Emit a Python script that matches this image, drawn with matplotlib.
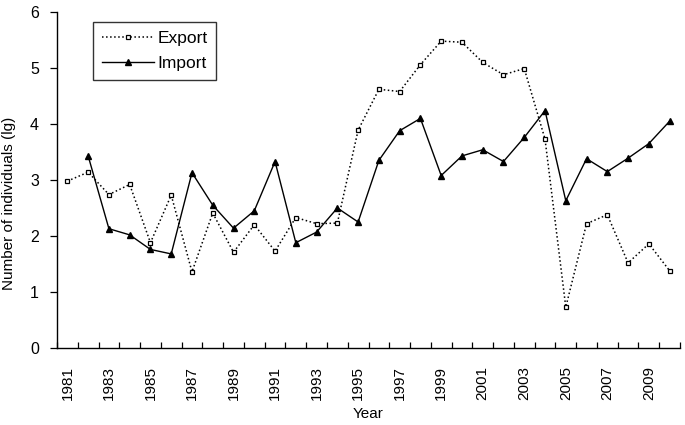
import numpy as np
import matplotlib.pyplot as plt

plt.rcParams['font.family'] = ['Liberation Sans', 'DejaVu Sans']

years = list(range(1981, 2011))
export = [2.98, 3.14, 2.74, 2.92, 1.88, 2.73, 1.36, 2.41, 1.71, 2.20,
          1.73, 2.33, 2.22, 2.23, 3.89, 4.62, 4.58, 5.06, 5.48, 5.46,
          5.10, 4.88, 4.99, 3.73, 0.73, 2.22, 2.38, 1.52, 1.86, 1.38]
# no import value for 1981
imports = [np.nan, 3.43, 2.13, 2.02, 1.76, 1.68, 3.13, 2.55, 2.14, 2.45,
           3.33, 1.88, 2.07, 2.50, 2.25, 3.35, 3.88, 4.10, 3.08, 3.43,
           3.54, 3.33, 3.76, 4.24, 2.63, 3.38, 3.15, 3.39, 3.65, 4.05]

x = np.arange(len(years))

fig = plt.figure(figsize=(6.85, 4.25), dpi=100)
ax = fig.add_axes([57 / 685, 1 - 348 / 425, 623 / 685, 336 / 425])

ax.plot(x, export, linestyle=':', color='black', linewidth=1.1,
        marker='s', markersize=3.5, markerfacecolor='white',
        markeredgecolor='black', markeredgewidth=0.9, label='Export')
ax.plot(x, imports, linestyle='-', color='black', linewidth=1.0,
        marker='^', markersize=4.5, markerfacecolor='black',
        markeredgecolor='black', label='Import')

ax.set_xlim(-0.5, len(years) - 0.5)
ax.set_ylim(0, 6)

# category axis: ticks between categories, labels at every other year
ax.set_xticks(np.arange(-0.5, len(years), 1.0))
ax.set_xticklabels([])
ax.tick_params(axis='x', which='major', direction='in', length=4, width=0.9)
ax.set_xticks(x[::2], minor=True)
ax.set_xticklabels([str(y) for y in years[::2]], minor=True, rotation=90,
                   fontsize=11)
ax.tick_params(axis='x', which='minor', length=0, pad=13)

ax.set_yticks(range(0, 7))
ax.tick_params(axis='y', direction='out', length=5, width=0.9,
               labelsize=11.5, pad=8)

for side in ['top', 'right']:
    ax.spines[side].set_visible(False)
for side in ['left', 'bottom']:
    ax.spines[side].set_linewidth(1.0)

ax.set_xlabel('Year', fontsize=11, labelpad=5)
ax.set_ylabel('Number of individuals (lg)', fontsize=11)
ax.yaxis.set_label_coords(-0.066, 0.43)

leg = ax.legend(loc='upper left', bbox_to_anchor=(0.058, 0.97), fontsize=12.5,
                frameon=True, fancybox=False, edgecolor='black',
                handlelength=3.0, handletextpad=0.2, borderpad=0.5,
                labelspacing=0.6, borderaxespad=0)
leg.get_frame().set_linewidth(1.0)

fig.savefig('out.png', dpi=100)
